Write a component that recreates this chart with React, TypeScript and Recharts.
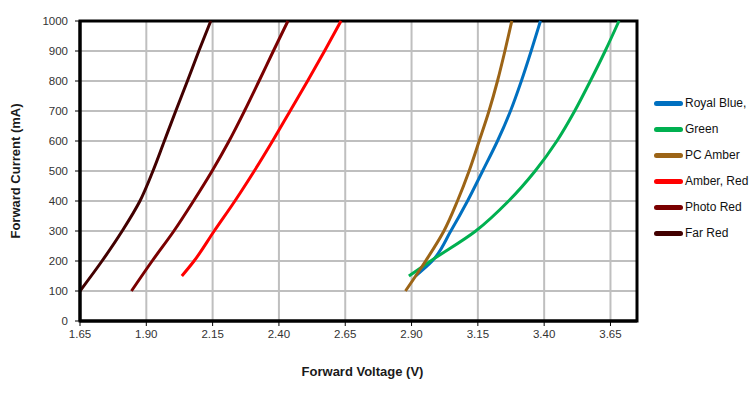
import React from "react";
import {
  LineChart,
  Line,
  XAxis,
  YAxis,
  CartesianGrid,
  ReferenceArea,
  Label,
} from "recharts";

const xTicks = [1.65, 1.9, 2.15, 2.4, 2.65, 2.9, 3.15, 3.4, 3.65];
const yTicks = [0, 100, 200, 300, 400, 500, 600, 700, 800, 900, 1000];

const royalBlueV = [2.915, 2.978, 3.048, 3.111, 3.168, 3.224, 3.273, 3.314, 3.351, 3.386];
const royalBlueI = [150, 200, 300, 400, 500, 600, 700, 800, 900, 1000];

const greenV = [2.89, 2.972, 3.142, 3.266, 3.366, 3.448, 3.515, 3.574, 3.63, 3.682];
const greenI = [150, 200, 300, 400, 500, 600, 700, 800, 900, 1000];

const pcAmberV = [2.877, 2.953, 3.022, 3.073, 3.117, 3.155, 3.192, 3.224, 3.252, 3.278];
const pcAmberI = [100, 200, 300, 400, 500, 600, 700, 800, 900, 1000];

const amberRedV = [2.034, 2.08, 2.156, 2.234, 2.307, 2.376, 2.442, 2.508, 2.572, 2.634];
const amberRedI = [150, 200, 300, 400, 500, 600, 700, 800, 900, 1000];

const photoRedV = [1.844, 1.922, 2.004, 2.078, 2.148, 2.212, 2.27, 2.325, 2.379, 2.434];
const photoRedI = [100, 200, 300, 400, 500, 600, 700, 800, 900, 1000];

const farRedV = [1.65, 1.733, 1.809, 1.876, 1.925, 1.968, 2.011, 2.055, 2.098, 2.143];
const farRedI = [100, 200, 300, 400, 500, 600, 700, 800, 900, 1000];

const toPoints = (vs: number[], is: number[]) => vs.map((v, k) => ({ v, i: is[k] }));

const series = [
  { name: "Royal Blue,", color: "#0070C0", data: toPoints(royalBlueV, royalBlueI) },
  { name: "Green", color: "#00B050", data: toPoints(greenV, greenI) },
  { name: "PC Amber", color: "#9C6416", data: toPoints(pcAmberV, pcAmberI) },
  { name: "Amber, Red", color: "#FF0000", data: toPoints(amberRedV, amberRedI) },
  { name: "Photo Red", color: "#7A0000", data: toPoints(photoRedV, photoRedI) },
  { name: "Far Red", color: "#420000", data: toPoints(farRedV, farRedI) },
];

const FONT = "'Liberation Sans', Arial, sans-serif";

const LegendBox = () => (
  <div
    style={{
      position: "absolute",
      left: 654,
      top: 90,
      fontFamily: FONT,
      fontSize: 12,
      color: "#111",
    }}
  >
    {series.map((s) => (
      <div
        key={s.name}
        style={{ display: "flex", alignItems: "center", height: 26, whiteSpace: "nowrap" }}
      >
        <span
          style={{
            display: "inline-block",
            width: 29,
            height: 5,
            borderRadius: 3,
            background: s.color,
            marginRight: 2,
          }}
        />
        <span>{s.name}</span>
      </div>
    ))}
  </div>
);

const YTitle = (props: any) => {
  const vb = props.viewBox || { x: 0, y: 0, width: 0, height: 0 };
  const cx = vb.x + 15;
  const cy = vb.y + vb.height / 2;
  return (
    <text
      x={cx}
      y={cy}
      transform={`rotate(-90 ${cx} ${cy})`}
      textAnchor="middle"
      dominantBaseline="central"
      fontFamily={FONT}
      fontWeight="bold"
      fontSize={13}
      fill="#1a1a1a"
    >
      Forward Current (mA)
    </text>
  );
};

const XTitle = (props: any) => {
  const vb = props.viewBox || { x: 0, y: 0, width: 0, height: 0 };
  const cx = vb.x + vb.width / 2 + 4;
  const cy = vb.y + 50;
  return (
    <text
      x={cx}
      y={cy}
      textAnchor="middle"
      dominantBaseline="central"
      fontFamily={FONT}
      fontWeight="bold"
      fontSize={13}
      fill="#1a1a1a"
    >
      Forward Voltage (V)
    </text>
  );
};

export default function App() {
  return (
    <div style={{ position: "relative", width: 750, height: 398, background: "#fff" }}>
      <style>{`body{margin:0;background:#fff}`}</style>
      <LineChart
        width={750}
        height={398}
        margin={{ top: 21, right: 113, left: 0, bottom: 17 }}
      >
        <CartesianGrid stroke="#BFBFBF" strokeWidth={2} />
        <XAxis
          type="number"
          dataKey="v"
          domain={[1.65, 3.75]}
          ticks={xTicks}
          allowDataOverflow
          height={60}
          tickFormatter={(t: number) => t.toFixed(2)}
          tick={{ fontSize: 11.5, fill: "#333", fontFamily: FONT }}
          tickSize={5}
          tickMargin={4}
          axisLine={{ stroke: "#000", strokeWidth: 3 }}
          tickLine={{ stroke: "#000", strokeWidth: 1 }}
        >
          <Label content={<XTitle />} />
        </XAxis>
        <YAxis
          type="number"
          dataKey="i"
          domain={[0, 1000]}
          ticks={yTicks}
          width={80}
          tick={{ fontSize: 11.5, fill: "#333", fontFamily: FONT }}
          tickSize={5}
          tickMargin={7}
          axisLine={{ stroke: "#000", strokeWidth: 3 }}
          tickLine={{ stroke: "#000", strokeWidth: 1 }}
        >
          <Label content={<YTitle />} />
        </YAxis>
        <ReferenceArea
          x1={1.65}
          x2={3.75}
          y1={0}
          y2={1000}
          fill="none"
          fillOpacity={0}
          stroke="#000"
          strokeWidth={3}
          ifOverflow="visible"
        />
        {series.map((s) => (
          <Line
            key={s.name}
            data={s.data}
            dataKey="i"
            name={s.name}
            type="monotoneY"
            stroke={s.color}
            strokeWidth={3}
            dot={false}
            activeDot={false}
            isAnimationActive={false}
          />
        ))}
      </LineChart>
      <LegendBox />
    </div>
  );
}
